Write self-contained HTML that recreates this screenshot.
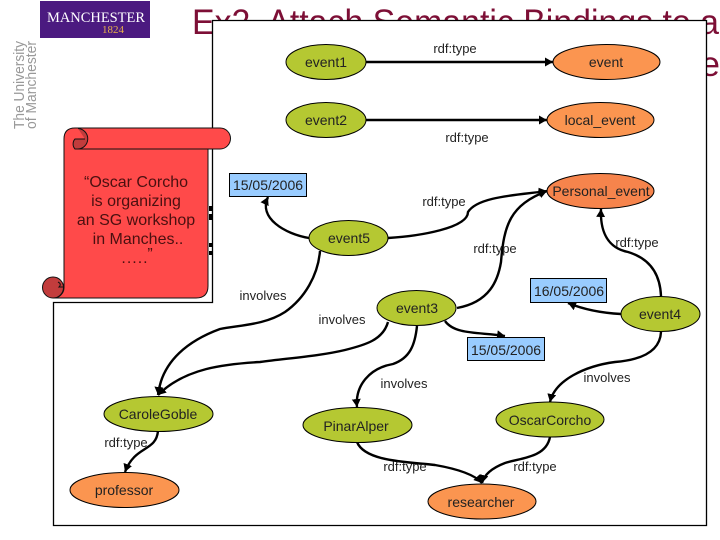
<!DOCTYPE html>
<html><head><meta charset="utf-8"><style>
html,body{margin:0;padding:0;background:#fff}
svg{display:block}
text{font-family:"Liberation Sans",sans-serif}
.n{font-size:14px;text-anchor:middle;fill:#222}
.l{font-size:13px;text-anchor:middle;fill:#222}
.s{font-size:16px;text-anchor:middle;fill:#4a1010}
.e{fill:none;stroke:#000;stroke-width:2.4}
.g{fill:#b5c832;stroke:#000;stroke-width:1}
.o{fill:#fb9550;stroke:#000;stroke-width:1}
.b{fill:#99ccff;stroke:#000;stroke-width:1}
</style></head><body>
<svg width="720" height="540" viewBox="0 0 720 540" xmlns="http://www.w3.org/2000/svg">
<defs><marker id="a" markerUnits="userSpaceOnUse" markerWidth="10" markerHeight="10" refX="8" refY="4.500" orient="auto"><path d="M0 0L8 4.500L0 9Z" fill="#000"/></marker></defs>
<rect x="40" y="1" width="110" height="37" fill="#4b1a80"/>
<text x="96" y="22" text-anchor="middle" font-size="14.500" fill="#fff" style="font-family:'Liberation Serif',serif" textLength="98" lengthAdjust="spacingAndGlyphs">MANCHESTER</text>
<text x="113" y="33" text-anchor="middle" font-size="11" fill="#e8b04a" style="font-family:'Liberation Serif',serif">1824</text>
<g fill="#999" font-size="14.500">
<text transform="translate(24,129) rotate(-90)" textLength="88" lengthAdjust="spacingAndGlyphs">The University</text>
<text transform="translate(36,129) rotate(-90)" textLength="88" lengthAdjust="spacingAndGlyphs">of Manchester</text>
</g>
<text x="192" y="34" font-size="35" fill="#7d0f36" textLength="527" lengthAdjust="spacingAndGlyphs">Ex2. Attach Semantic Bindings to a</text>
<text x="720" y="76" font-size="35" fill="#7d0f36" text-anchor="end">Resource</text>
<path d="M212.500 20.500H706.500V525.500H53.500V302.500H212.500Z" fill="#fff" stroke="#000" stroke-width="1.300"/>
<rect x="209" y="206" width="3" height="5" fill="#000"/><rect x="209" y="214" width="3" height="6" fill="#000"/>
<rect x="209" y="243" width="3" height="4" fill="#000"/><rect x="209" y="251" width="3" height="4" fill="#000"/>
<circle cx="53" cy="287.500" r="10.500" fill="#c23c3c" stroke="#111" stroke-width="1"/>
<path d="M64 139Q64 128 75 128H220A10.500 10.500 0 0 1 220 149H208V286Q208 298 196 298H53A10.500 10.500 0 0 0 64 287.500Z" fill="#ff4a4a" stroke="#111" stroke-width="1"/>
<path d="M75 149H220" stroke="#111" fill="none"/>
<path d="M78 128.500A10 10 0 0 1 77 149H75A7.500 7.500 0 0 1 75 139H85" fill="#c23c3c" stroke="#111" stroke-width="1"/>
<path d="M58 282Q62 284 59 287H64" stroke="#111" fill="none" stroke-width="1"/>
<text class="s" x="136" y="187">“Oscar Corcho</text>
<text class="s" x="136" y="206">is organizing</text>
<text class="s" x="136" y="225">an SG workshop</text>
<text class="s" x="138" y="244">in Manches..</text>
<text class="s" x="135" y="263" letter-spacing="1">.....</text>
<text class="s" x="150" y="259">”</text>
<g>
<path marker-end="url(#a)" class="e" d="M365 62H553"/>
<path marker-end="url(#a)" class="e" d="M365 120H547"/>
<path marker-end="url(#a)" class="e" d="M309 238C285 234 258 218 268 197"/>
<path marker-end="url(#a)" class="e" d="M388 238C420 236 468 228 468 212C478 196 520 195 547 191"/>
<path marker-end="url(#a)" class="e" d="M457 308C490 302 498 280 501 262C504 225 510 205 547 191"/>
<path marker-end="url(#a)" class="e" d="M661 296C660 272 648 258 628 252C608 248 600 232 601 209"/>
<path marker-end="url(#a)" class="e" d="M621 314C602 313 585 310 568 303"/>
<path marker-end="url(#a)" class="e" d="M445 321C455 335 480 332 505 336"/>
<path marker-end="url(#a)" class="e" d="M417 326C415 345 410 358 393 364C370 368 355 385 357 407"/>
<path marker-end="url(#a)" class="e" d="M388 322C383 340 365 345 345 350C320 356 290 358 260 362C225 364 185 368 158 395"/>
<path marker-end="url(#a)" class="e" d="M320 251C318 275 305 298 285 312C265 325 240 325 220 329C190 340 162 360 158 395"/>
<path marker-end="url(#a)" class="e" d="M661 332C660 352 640 360 615 362C585 366 555 380 550 402"/>
<path marker-end="url(#a)" class="e" d="M158 431C156 452 135 445 125 472"/>
<path marker-end="url(#a)" class="e" d="M357 442C365 462 410 462 435 465C458 469 475 475 482 483"/>
<path marker-end="url(#a)" class="e" d="M550 437C546 458 520 458 505 463C492 468 484 475 482 483"/>
</g>
<ellipse class="g" cx="326" cy="62" rx="40" ry="17.500"/><text class="n" x="326" y="67">event1</text>
<ellipse class="g" cx="326" cy="120" rx="40" ry="17.500"/><text class="n" x="326" y="125">event2</text>
<ellipse class="o" cx="606.500" cy="62" rx="53.500" ry="17.500"/><text class="n" x="606" y="67">event</text>
<ellipse class="o" cx="600.500" cy="120" rx="53.500" ry="17.500"/><text class="n" x="600" y="125">local_event</text>
<ellipse class="o" cx="600.500" cy="191" rx="53.500" ry="17.500" style="fill:#f6844c"/><text class="n" x="601" y="196">Personal_event</text>
<ellipse class="g" cx="348.500" cy="238" rx="39.500" ry="17.500"/><text class="n" x="349" y="243">event5</text>
<ellipse class="g" cx="416.500" cy="308" rx="39.500" ry="17.500"/><text class="n" x="417" y="313">event3</text>
<ellipse class="g" cx="660.500" cy="314" rx="39.500" ry="17.500"/><text class="n" x="660" y="319">event4</text>
<ellipse class="g" cx="158.500" cy="414" rx="54.500" ry="17.500"/><text class="n" x="158" y="419">CaroleGoble</text>
<ellipse class="o" cx="124.500" cy="490" rx="54.500" ry="17.500"/><text class="n" x="124" y="495">professor</text>
<ellipse class="g" cx="357.500" cy="425" rx="54.500" ry="17.500"/><text class="n" x="356" y="431">PinarAlper</text>
<ellipse class="g" cx="550" cy="419.500" rx="54" ry="17.500"/><text class="n" x="550" y="425">OscarCorcho</text>
<ellipse class="o" cx="482" cy="501.500" rx="54" ry="17.500"/><text class="n" x="481" y="507">researcher</text>
<rect class="b" x="229.500" y="173.500" width="77" height="23"/><text class="n" x="268" y="190">15/05/2006</text>
<rect class="b" x="530.500" y="278.500" width="76" height="24"/><text class="n" x="569" y="296">16/05/2006</text>
<rect class="b" x="467.500" y="337.500" width="77" height="23"/><text class="n" x="506" y="355">15/05/2006</text>
<text class="l" x="455" y="53">rdf:type</text>
<text class="l" x="467" y="142">rdf:type</text>
<text class="l" x="444" y="206">rdf:type</text>
<text class="l" x="495" y="253">rdf:type</text>
<text class="l" x="637" y="247">rdf:type</text>
<text class="l" x="263" y="300">involves</text>
<text class="l" x="342" y="324">involves</text>
<text class="l" x="404" y="388">involves</text>
<text class="l" x="607" y="382">involves</text>
<text class="l" x="126" y="447">rdf:type</text>
<text class="l" x="405" y="471">rdf:type</text>
<text class="l" x="535" y="471">rdf:type</text>
</svg>
</body></html>
